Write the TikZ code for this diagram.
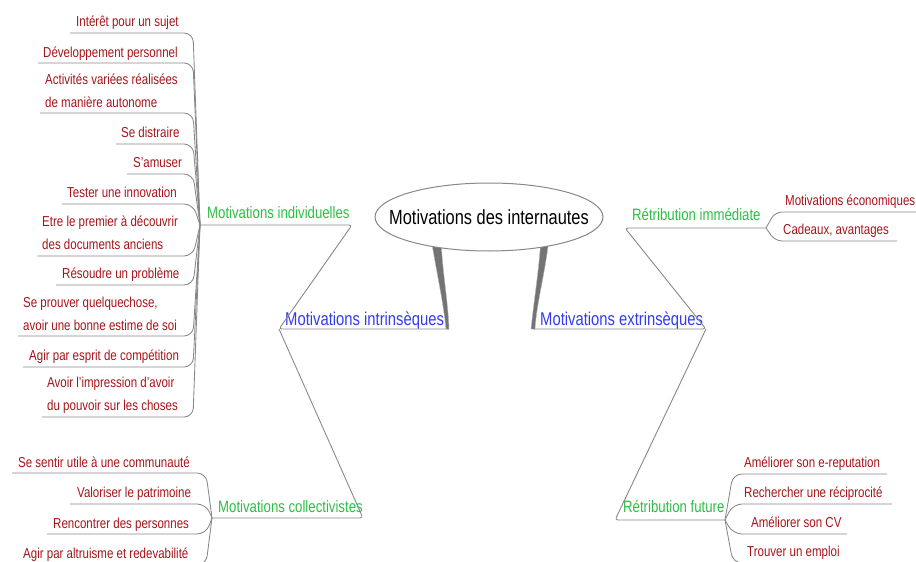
\documentclass[tikz,border=0pt]{standalone}
\usepackage{fontspec}
\setmainfont{Liberation Sans}[FakeStretch=0.8]
\usetikzlibrary{shapes.geometric}
\definecolor{leafred}{RGB}{165,20,25}
\definecolor{subgreen}{RGB}{45,190,70}
\definecolor{mainblue}{RGB}{50,60,235}
\definecolor{linegray}{RGB}{135,135,135}
\definecolor{branchgray}{RGB}{115,115,115}
\tikzset{
 leaf/.style={anchor=base west, inner sep=0pt, text=leafred, font=\fontsize{14.4}{22.5}\selectfont},
 sub/.style={anchor=base west, inner sep=0pt, text=subgreen, font=\fontsize{16.5}{20}\selectfont},
 mainlab/.style={anchor=base west, inner sep=0pt, text=mainblue, font=\fontsize{18.5}{22}\selectfont},
 conn/.style={draw=linegray, line width=0.85pt, rounded corners=9pt},
 link/.style={draw=linegray, line width=0.9pt, rounded corners=3pt},
 thick branch/.style={fill=branchgray, draw=linegray!60, line width=0.4pt},
 rootnode/.style={ellipse, draw=linegray, line width=1pt, fill=white, minimum width=228pt, minimum height=68pt, inner xsep=-25pt, inner ysep=0pt, font=\fontsize{20.5}{24}\selectfont}
}
\newcommand{\twolines}[2]{\begin{tabular}[b]{@{}l@{}}#1\\#2\end{tabular}}
\begin{document}
\begin{tikzpicture}[x=1pt,y=-1pt]
\useasboundingbox (0,0) rectangle (916,562);

% ---------- main labels and junction coordinates
\node[mainlab] (intr) at (285,325) {Motivations intrinsèques};
\node[mainlab] (extr) at (540,325) {Motivations extrinsèques};
\coordinate (iL) at (279,329);
\coordinate (iR) at (449,329);
\coordinate (eL) at (533,329);
\coordinate (eR) at (706,329);

\node[sub] (indiv) at (207,218) {Motivations individuelles};
\node[sub] (coll) at (218,512) {Motivations collectivistes};
\node[sub] (immed) at (632,220) {Rétribution immédiate};
\node[sub] (futur) at (623,512) {Rétribution future};
\coordinate (pI) at (200,225);
\coordinate (pIr) at (352,225);
\coordinate (pC) at (212,518);
\coordinate (pCr) at (363,518);
\coordinate (pRl) at (625,228);
\coordinate (pR) at (766,228);
\coordinate (pFl) at (615,520);
\coordinate (pF) at (725,520);

% spine coordinates
\coordinate (sI) at (193,0);
\coordinate (sC) at (206,0);
\coordinate (sR) at (775,0);
\coordinate (sF) at (733,0);

% ---------- thick branches from root
\path[thick branch] (431,238) .. controls (437,275) and (443,300) .. (446,329) -- (iR) .. controls (448,300) and (442,270) .. (441,238) -- cycle;
\path[thick branch] (541,238) .. controls (539,270) and (534,300) .. (531,329) -- (535,329) .. controls (537,300) and (545,275) .. (549,238) -- cycle;

\node[rootnode] (root) at (489,217) {Motivations des internautes};

% ---------- main links
\draw[link] (iR) -- (iL) -- (pIr) -- (pI);
\draw[link] (iL) -- (pCr) -- (pC);
\draw[link] (eL) -- (eR) -- (pRl) -- (pR);
\draw[link] (eR) -- (pFl) -- (pF);

% ---------- individual motivations
\node[leaf] (l1) at (76,27) {Intérêt pour un sujet};
\node[leaf] (l2) at (43,57) {Développement personnel};
\node[leaf] (l3) at (45,107) {\twolines{Activités variées réalisées}{de manière autonome}};
\node[leaf] (l4) at (121,137) {Se distraire};
\node[leaf] (l5) at (133,167) {S'amuser};
\node[leaf] (l6) at (67,197) {Tester une innovation};
\node[leaf] (l7) at (42,249) {\twolines{Etre le premier à découvrir}{des documents anciens}};
\node[leaf] (l8) at (62,278) {Résoudre un problème};
\node[leaf] (l9) at (23,330) {\twolines{Se prouver quelquechose,}{avoir une bonne estime de soi}};
\node[leaf] (l10) at (29,360) {Agir par esprit de compétition};
\node[leaf] (l11) at (47,410) {\twolines{Avoir l’impression d’avoir}{du pouvoir sur les choses}};
\coordinate (l1u) at (70,33);
\coordinate (l2u) at (38,63);
\coordinate (l3u) at (40,113);
\coordinate (l4u) at (116,144);
\coordinate (l5u) at (127,174);
\coordinate (l6u) at (62,204);
\coordinate (l7u) at (37,256);
\coordinate (l8u) at (56,285);
\coordinate (l9u) at (18,336);
\coordinate (l10u) at (23,367);
\coordinate (l11u) at (42,417);
\foreach \u in {l1u,l2u,l3u,l4u,l5u,l6u,l7u,l8u,l9u,l10u,l11u}
  \draw[conn] (\u) -- (\u -| sI) -- (pI);

% ---------- collective motivations
\node[leaf] (c1) at (18,467) {Se sentir utile à une communauté};
\node[leaf] (c2) at (77,497) {Valoriser le patrimoine};
\node[leaf] (c3) at (53,528) {Rencontrer des personnes};
\node[leaf] (c4) at (23,558) {Agir par altruisme et redevabilité};
\coordinate (c1u) at (12,473);
\coordinate (c2u) at (70,504);
\coordinate (c3u) at (47,534);
\coordinate (c4u) at (18,565);
\foreach \u in {c1u,c2u,c3u,c4u}
  \draw[conn] (\u) -- (\u -| sC) -- (pC);

% ---------- immediate retribution
\node[leaf] (r1) at (785,205) {Motivations économiques};
\node[leaf] (r2) at (783,234) {Cadeaux, avantages};
\coordinate (r1u) at (918,212);
\coordinate (r2u) at (897,241);
\foreach \u in {r1u,r2u}
  \draw[conn, rounded corners=7pt] (\u) -- (\u -| sR) -- (pR);

% ---------- future retribution
\node[leaf] (f1) at (744,467) {Améliorer son e-reputation};
\node[leaf] (f2) at (744,497) {Rechercher une réciprocité};
\node[leaf] (f3) at (751,527) {Améliorer son CV};
\node[leaf] (f4) at (747,556) {Trouver un emploi};
\coordinate (f1u) at (887,474);
\coordinate (f2u) at (892,504);
\coordinate (f3u) at (847,534);
\coordinate (f4u) at (850,563);
\foreach \u in {f1u,f2u,f3u,f4u}
  \draw[conn] (\u) -- (\u -| sF) -- (pF);
\end{tikzpicture}
\end{document}
